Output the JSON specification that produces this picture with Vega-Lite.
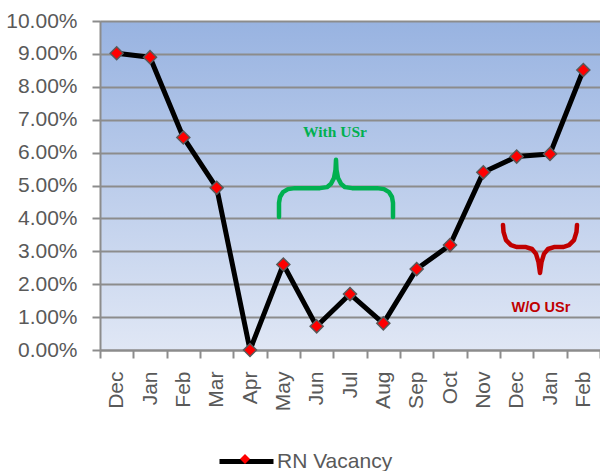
{
  "$schema": "https://vega.github.io/schema/vega-lite/v6.json",
  "width": 500,
  "height": 329,
  "autosize": {"type": "none"},
  "padding": {"left": 100, "top": 21, "right": 0, "bottom": 121},
  "background": "white",
  "config": {
    "font": "Liberation Sans",
    "view": {
      "stroke": null,
      "fill": {"gradient": "linear", "x1": 0, "y1": 0, "x2": 0, "y2": 1,
        "stops": [{"offset": 0, "color": "#98b3e1"}, {"offset": 1, "color": "#e0e7f5"}]}
    },
    "axisY": {
      "labelFontSize": 21, "labelColor": "#595959", "labelOverlap": false,
      "tickSize": 8, "tickWidth": 2, "tickColor": "#8c8c8c",
      "domainColor": "#8c8c8c", "domainWidth": 2,
      "grid": true, "gridColor": "#8c8c8c", "gridWidth": 2, "labelPadding": 15
    }
  },
  "datasets": {
    "vac": [
      {"month": "Dec", "v": 0.0902},
      {"month": "Jan", "v": 0.0890},
      {"month": "Feb", "v": 0.0646},
      {"month": "Mar", "v": 0.0493},
      {"month": "Apr", "v": 0.0},
      {"month": "May", "v": 0.0260},
      {"month": "Jun", "v": 0.0072},
      {"month": "Jul", "v": 0.0170},
      {"month": "Aug", "v": 0.0081},
      {"month": "Sep", "v": 0.0246},
      {"month": "Oct", "v": 0.0319},
      {"month": "Nov", "v": 0.0540},
      {"month": "Dec2", "v": 0.0588},
      {"month": "Jan2", "v": 0.0596},
      {"month": "Feb2", "v": 0.0851}
    ],
    "brace": [
      {"b": "with", "o": 1, "bx": 5.37, "v": 0.0404},
      {"b": "with", "o": 2, "bx": 5.37, "v": 0.0447},
      {"b": "with", "o": 3, "bx": 5.40, "v": 0.0465},
      {"b": "with", "o": 4, "bx": 5.49, "v": 0.0480},
      {"b": "with", "o": 5, "bx": 5.64, "v": 0.0489},
      {"b": "with", "o": 6, "bx": 5.85, "v": 0.0492},
      {"b": "with", "o": 7, "bx": 6.60, "v": 0.0492},
      {"b": "with", "o": 8, "bx": 6.81, "v": 0.0495},
      {"b": "with", "o": 9, "bx": 6.93, "v": 0.0505},
      {"b": "with", "o": 10, "bx": 7.02, "v": 0.0523},
      {"b": "with", "o": 11, "bx": 7.065, "v": 0.0547},
      {"b": "with", "o": 12, "bx": 7.08, "v": 0.0578},
      {"b": "with", "o": 13, "bx": 7.095, "v": 0.0547},
      {"b": "with", "o": 14, "bx": 7.14, "v": 0.0523},
      {"b": "with", "o": 15, "bx": 7.23, "v": 0.0505},
      {"b": "with", "o": 16, "bx": 7.35, "v": 0.0495},
      {"b": "with", "o": 17, "bx": 7.56, "v": 0.0492},
      {"b": "with", "o": 18, "bx": 8.31, "v": 0.0492},
      {"b": "with", "o": 19, "bx": 8.52, "v": 0.0489},
      {"b": "with", "o": 20, "bx": 8.67, "v": 0.0480},
      {"b": "with", "o": 21, "bx": 8.76, "v": 0.0465},
      {"b": "with", "o": 22, "bx": 8.79, "v": 0.0447},
      {"b": "with", "o": 23, "bx": 8.79, "v": 0.0404},
      {"b": "without", "o": 1, "bx": 12.09, "v": 0.0380},
      {"b": "without", "o": 2, "bx": 12.105, "v": 0.0359},
      {"b": "without", "o": 3, "bx": 12.18, "v": 0.0334},
      {"b": "without", "o": 4, "bx": 12.33, "v": 0.0319},
      {"b": "without", "o": 5, "bx": 12.51, "v": 0.0313},
      {"b": "without", "o": 6, "bx": 12.78, "v": 0.0313},
      {"b": "without", "o": 7, "bx": 12.96, "v": 0.0307},
      {"b": "without", "o": 8, "bx": 13.08, "v": 0.0292},
      {"b": "without", "o": 9, "bx": 13.155, "v": 0.0267},
      {"b": "without", "o": 10, "bx": 13.2, "v": 0.0234},
      {"b": "without", "o": 11, "bx": 13.245, "v": 0.0267},
      {"b": "without", "o": 12, "bx": 13.32, "v": 0.0292},
      {"b": "without", "o": 13, "bx": 13.44, "v": 0.0307},
      {"b": "without", "o": 14, "bx": 13.62, "v": 0.0313},
      {"b": "without", "o": 15, "bx": 13.89, "v": 0.0313},
      {"b": "without", "o": 16, "bx": 14.07, "v": 0.0319},
      {"b": "without", "o": 17, "bx": 14.22, "v": 0.0334},
      {"b": "without", "o": 18, "bx": 14.295, "v": 0.0359},
      {"b": "without", "o": 19, "bx": 14.31, "v": 0.0380}
    ],
    "notes": [
      {"b": "with", "bx": 7.05, "v": 0.0663, "t": "With USr"},
      {"b": "without", "bx": 13.23, "v": 0.0129, "t": "W/O USr"}
    ]
  },
  "layer": [
    {
      "data": {"name": "vac"},
      "encoding": {
        "x": {
          "field": "month", "type": "ordinal", "sort": null,
          "scale": {"type": "band", "paddingInner": 0, "paddingOuter": 0},
          "axis": {
            "title": null, "labelAngle": -90, "labelExpr": "replace(datum.label, '2', '')",
            "tickBand": "extent", "tickSize": 8, "tickWidth": 2, "tickColor": "#8c8c8c",
            "domainColor": "#8c8c8c", "domainWidth": 2, "labelFontSize": 21, "labelColor": "#595959",
            "labelPadding": 13, "grid": false
          }
        },
        "y": {
          "field": "v", "type": "quantitative", "title": null,
          "scale": {"domain": [0, 0.1], "nice": false},
          "axis": {
            "values": [0, 0.01, 0.02, 0.03, 0.04, 0.05, 0.06, 0.07, 0.08, 0.09, 0.1],
            "format": ".2%"
          }
        }
      },
      "layer": [
        {
          "mark": {"type": "line", "strokeWidth": 5, "strokeJoin": "round"},
          "encoding": {
            "stroke": {
              "datum": "RN Vacancy",
              "scale": {"range": ["black"]},
              "legend": {
                "orient": "none", "legendX": 117, "legendY": 411, "title": null,
                "symbolType": "stroke", "symbolSize": 2916, "symbolStrokeWidth": 5,
                "symbolStrokeColor": "black",
                "labelFontSize": 21, "labelColor": "#595959", "labelOffset": 1
              }
            }
          }
        },
        {
          "mark": {"type": "point", "filled": true, "fill": "#ff0000", "stroke": "#595959", "strokeWidth": 1.5, "size": 170, "opacity": 1},
          "encoding": {
            "shape": {
              "datum": "marker",
              "scale": {"range": ["diamond"]},
              "legend": {
                "orient": "none", "legendX": 139, "legendY": 432, "title": null,
                "labelExpr": "''", "symbolType": "diamond", "symbolSize": 100,
                "symbolFillColor": "#ff0000", "symbolStrokeColor": "#595959", "symbolStrokeWidth": 1.5
              }
            }
          }
        }
      ]
    },
    {
      "data": {"name": "brace"},
      "transform": [{"filter": "datum.b == 'with'"}],
      "mark": {"type": "line", "color": "#00b050", "strokeWidth": 4.5, "strokeCap": "round", "strokeJoin": "round"},
      "encoding": {
        "x": {"field": "bx", "type": "quantitative", "scale": {"domain": [0, 15], "nice": false, "zero": false}, "axis": null},
        "y": {"field": "v", "type": "quantitative", "title": null, "axis": {"values": [0, 0.01, 0.02, 0.03, 0.04, 0.05, 0.06, 0.07, 0.08, 0.09, 0.1], "format": ".2%"}},
        "order": {"field": "o", "type": "quantitative"}
      }
    },
    {
      "data": {"name": "brace"},
      "transform": [{"filter": "datum.b == 'without'"}],
      "mark": {"type": "line", "color": "#c00000", "strokeWidth": 4.5, "strokeCap": "round", "strokeJoin": "round"},
      "encoding": {
        "x": {"field": "bx", "type": "quantitative", "scale": {"domain": [0, 15], "nice": false, "zero": false}, "axis": null},
        "y": {"field": "v", "type": "quantitative", "title": null, "axis": {"values": [0, 0.01, 0.02, 0.03, 0.04, 0.05, 0.06, 0.07, 0.08, 0.09, 0.1], "format": ".2%"}},
        "order": {"field": "o", "type": "quantitative"}
      }
    },
    {
      "data": {"name": "notes"},
      "transform": [{"filter": "datum.b == 'with'"}],
      "mark": {"type": "text", "color": "#00b050", "font": "Liberation Serif", "fontWeight": "bold", "fontSize": 15.5},
      "encoding": {
        "x": {"field": "bx", "type": "quantitative", "scale": {"domain": [0, 15], "nice": false, "zero": false}, "axis": null},
        "y": {"field": "v", "type": "quantitative", "title": null, "axis": {"values": [0, 0.01, 0.02, 0.03, 0.04, 0.05, 0.06, 0.07, 0.08, 0.09, 0.1], "format": ".2%"}},
        "text": {"field": "t"}
      }
    },
    {
      "data": {"name": "notes"},
      "transform": [{"filter": "datum.b == 'without'"}],
      "mark": {"type": "text", "color": "#c00000", "font": "Liberation Sans", "fontWeight": "bold", "fontSize": 14.5},
      "encoding": {
        "x": {"field": "bx", "type": "quantitative", "scale": {"domain": [0, 15], "nice": false, "zero": false}, "axis": null},
        "y": {"field": "v", "type": "quantitative", "title": null, "axis": {"values": [0, 0.01, 0.02, 0.03, 0.04, 0.05, 0.06, 0.07, 0.08, 0.09, 0.1], "format": ".2%"}},
        "text": {"field": "t"}
      }
    }
  ],
  "resolve": {"scale": {"x": "independent"}}
}
